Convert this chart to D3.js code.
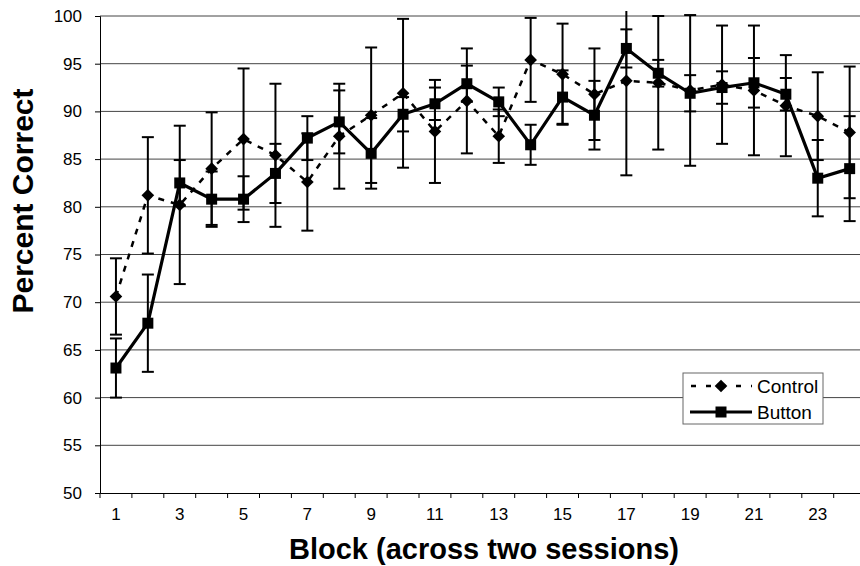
<!DOCTYPE html>
<html>
<head>
<meta charset="utf-8">
<script src="https://cdn.jsdelivr.net/npm/d3@7"></script>
<style>
  body { margin: 0; background: #fff; }
  text { font-family: "Liberation Sans", Arial, sans-serif; }
</style>
</head>
<body>
<div id="chart"></div>
<script>
// データ
var blocks = d3.range(1, 25);
var control = [70.6, 81.2, 80.2, 84.0, 87.1, 85.4, 82.6, 87.4, 89.6, 91.9, 87.9, 91.1,
               87.4, 95.4, 93.9, 91.8, 93.2, 93.0, 92.2, 92.8, 92.2, 90.6, 89.5, 87.8];
var controlErr = [4.0, 6.1, 8.3, 5.9, 7.4, 7.5, 5.1, 5.5, 7.1, 7.8, 5.4, 5.5,
                  2.8, 4.4, 5.3, 4.8, 9.9, 7.0, 7.9, 6.2, 6.8, 5.3, 4.6, 6.9];
var button = [63.1, 67.8, 82.5, 80.8, 80.8, 83.5, 87.2, 88.9, 85.6, 89.7, 90.8, 92.9,
              91.0, 86.5, 91.5, 89.6, 96.6, 94.0, 91.9, 92.5, 93.0, 91.8, 83.0, 84.0];
var buttonErr = [3.1, 5.1, 2.4, 2.9, 2.4, 3.1, 2.3, 3.3, 3.7, 1.8, 1.7, 1.9,
                 1.5, 2.1, 2.8, 3.6, 2.0, 1.4, 1.9, 1.7, 2.6, 1.7, 4.0, 5.5];
var yTicks = d3.range(50, 101, 5);
var xLabels = blocks.filter(b => b % 2 == 1);

var width = 860, height = 566;
var plotLeft = 100, plotTop = 16, plotBottom = 493;
var band = 31.9;

var svg = d3.select("#chart")
  .append("svg")
  .attr("width", width)
  .attr("height", height);

var x = d3.scaleBand().domain(blocks).range([plotLeft, plotLeft + band * blocks.length]);
var y = d3.scaleLinear().domain([50, 100]).range([plotBottom, plotTop]);
var cx = b => x(b) + x.bandwidth() / 2;

// グリッド線
svg.append("g")
  .selectAll("line")
  .data(yTicks.filter(t => t > 50))
  .enter()
  .append("line")
  .attr("x1", plotLeft).attr("x2", x.range()[1])
  .attr("y1", d => y(d)).attr("y2", d => y(d))
  .attr("stroke", "#444").attr("stroke-width", 1);

// Y軸
var yAxis = svg.append("g")
  .attr("transform", "translate(" + plotLeft + ",0)")
  .call(d3.axisLeft(y).tickValues(yTicks).tickSize(5).tickPadding(13));
yAxis.selectAll("text").attr("font-size", 17).attr("fill", "#000")
  .style("font-family", "'Liberation Sans', Arial, sans-serif");
yAxis.selectAll("line, path").attr("stroke", "#000");

// X軸
var xAxis = svg.append("g")
  .attr("transform", "translate(0," + plotBottom + ")")
  .call(d3.axisBottom(x).tickValues(xLabels).tickSize(0).tickPadding(15));
xAxis.selectAll("text").attr("font-size", 17).attr("fill", "#000")
  .style("font-family", "'Liberation Sans', Arial, sans-serif");
xAxis.select("path").attr("stroke", "#000");
xAxis.selectAll(".tick line").remove();
svg.append("g")
  .selectAll("line")
  .data(d3.range(0, blocks.length + 1))
  .enter()
  .append("line")
  .attr("x1", i => plotLeft + i * x.step()).attr("x2", i => plotLeft + i * x.step())
  .attr("y1", plotBottom).attr("y2", plotBottom + 5)
  .attr("stroke", "#000");

// 軸タイトル
svg.append("text")
  .attr("x", 484).attr("y", 559)
  .attr("text-anchor", "middle")
  .attr("font-size", 29).attr("font-weight", "bold")
  .text("Block (across two sessions)");
svg.append("text")
  .attr("transform", "translate(33,201) rotate(-90)")
  .attr("text-anchor", "middle")
  .attr("font-size", 30).attr("font-weight", "bold")
  .text("Percent Correct");

// 誤差範囲のクリップ
svg.append("clipPath").attr("id", "clip")
  .append("rect").attr("x", plotLeft).attr("y", plotTop - 5)
  .attr("width", width).attr("height", plotBottom - plotTop + 5);

// ひし形は正方形を45度回転して描く
var series = [
  { name: "Control", values: control, err: controlErr, dash: "6,7", width: 2.5, size: 80, rot: 45 },
  { name: "Button", values: button, err: buttonErr, dash: null, width: 3.2, size: 121, rot: 0 }
];

var plot = svg.append("g").attr("clip-path", "url(#clip)");

series.forEach(function(s) {
  var g = plot.append("g");
  var pts = blocks.map((b, i) => ({ b: b, v: s.values[i], e: s.err[i] }));
  // 誤差棒
  var eb = g.selectAll(".err").data(pts).enter().append("g");
  eb.append("line")
    .attr("x1", d => cx(d.b)).attr("x2", d => cx(d.b))
    .attr("y1", d => y(d.v - d.e)).attr("y2", d => y(d.v + d.e))
    .attr("stroke", "#000").attr("stroke-width", 2);
  [-1, 1].forEach(function(sg) {
    eb.append("line")
      .attr("x1", d => cx(d.b) - 6).attr("x2", d => cx(d.b) + 6)
      .attr("y1", d => y(d.v + sg * d.e)).attr("y2", d => y(d.v + sg * d.e))
      .attr("stroke", "#000").attr("stroke-width", 2);
  });
  // 線
  g.append("path")
    .datum(pts)
    .attr("fill", "none")
    .attr("stroke", "#000")
    .attr("stroke-width", s.width)
    .attr("stroke-dasharray", s.dash)
    .attr("d", d3.line().x(d => cx(d.b)).y(d => y(d.v)));
  // マーカー
  g.selectAll(".pt").data(pts).enter().append("path")
    .attr("transform", d => "translate(" + cx(d.b) + "," + y(d.v) + ") rotate(" + s.rot + ")")
    .attr("d", d3.symbol().type(d3.symbolSquare).size(s.size))
    .attr("fill", "#000");
});

// 凡例
var lg = svg.append("g");
lg.append("rect")
  .attr("x", 683).attr("y", 373).attr("width", 140).attr("height", 51)
  .attr("fill", "#fff").attr("stroke", "#666").attr("stroke-width", 1);
series.forEach(function(s, i) {
  var ly = 386 + i * 26;
  lg.append("line")
    .attr("x1", 690).attr("x2", 752).attr("y1", ly).attr("y2", ly)
    .attr("stroke", "#000").attr("stroke-width", s.width)
    .attr("stroke-dasharray", s.dash ? "5,10" : null)
    .attr("stroke-dashoffset", s.dash ? -1 : null);
  lg.append("path")
    .attr("transform", "translate(721," + ly + ") rotate(" + s.rot + ")")
    .attr("d", d3.symbol().type(d3.symbolSquare).size(s.size))
    .attr("fill", "#000");
  lg.append("text")
    .attr("x", 757).attr("y", ly + 7)
    .attr("font-size", 19)
    .text(s.name);
});
</script>
</body>
</html>
